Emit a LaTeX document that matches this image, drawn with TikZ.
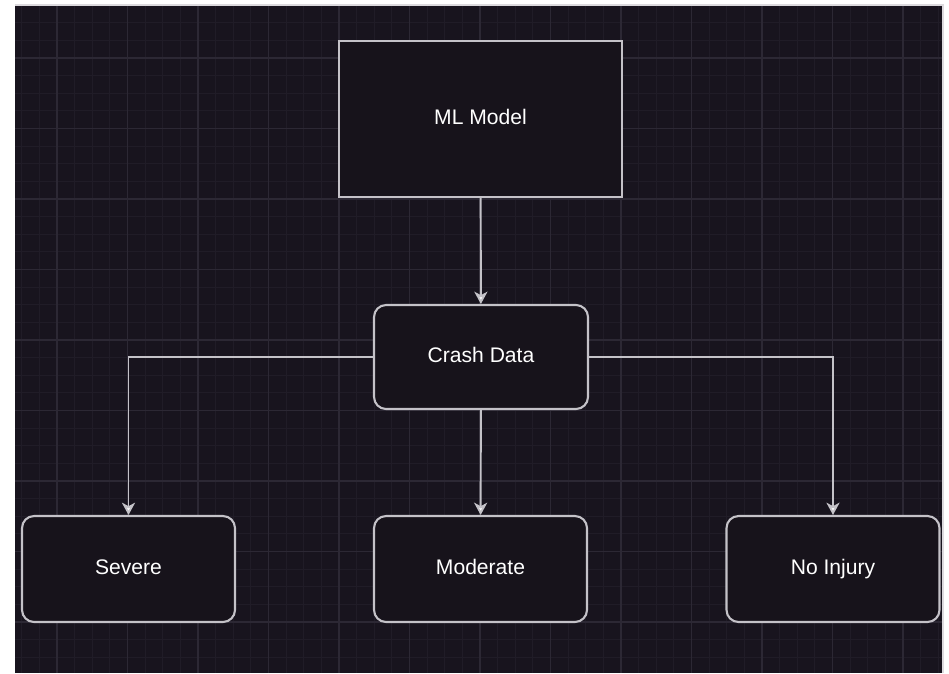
\documentclass[tikz,border=0pt]{standalone}
\usepackage{fontspec}
\setmainfont{Liberation Sans}
\usetikzlibrary{shapes,arrows.meta}
\usepackage{xcolor}
\definecolor{canvas}{HTML}{18141E}
\definecolor{gridminor}{HTML}{201C27}
\definecolor{gridmajor}{HTML}{2C2834}
\definecolor{boxline}{HTML}{C4C2C8}
\definecolor{boxfill}{HTML}{17131B}
\tikzset{
  block/.style={draw=boxline, fill=boxfill, line width=1.2pt, text=white,
    font=\fontsize{12}{14}\selectfont, text height=1.6ex, text depth=0.45ex,
    minimum width=4.26cm, minimum height=2.12cm},
  roundblock/.style={block, rounded corners=0.24cm},
  link/.style={draw=boxline, line width=1.1pt, -{Stealth[length=7pt,width=7.5pt,inset=2pt,fill=white]}}
}

\begin{document}
\begin{tikzpicture}[x=0.02cm,y=-0.02cm]
\useasboundingbox (0,0) rectangle (949,673);
\fill[white] (0,0) rectangle (949,673);
\fill[canvas] (15,5) rectangle (943,673);
\begin{scope}
\clip (15,5) rectangle (943,673);
\foreach \i in {-3,...,52} \draw[gridminor, line width=0.6pt] (57+17.625*\i,5) -- (57+17.625*\i,673);
\foreach \i in {-3,...,38} \draw[gridminor, line width=0.6pt] (15,58+17.625*\i) -- (943,58+17.625*\i);
\foreach \i in {0,...,12} \draw[gridmajor, line width=0.9pt] (57+70.5*\i,5) -- (57+70.5*\i,673);
\foreach \i in {-1,...,9} \draw[gridmajor, line width=0.9pt] (15,58+70.5*\i) -- (943,58+70.5*\i);
\end{scope}
\draw[boxline!60, line width=0.6pt] (15,5) -- (943,5) -- (943,673);

\node[block, minimum width=5.66cm, minimum height=3.12cm] (model) at (480.5,119) {ML Model};
\node[roundblock, minimum width=4.28cm, minimum height=2.08cm] (crash) at (481,357) {Crash Data};
\node[roundblock] (severe) at (128.5,569) {Severe};
\node[roundblock] (moderate) at (480.5,569) {Moderate};
\node[roundblock] (noinjury) at (833,569) {No Injury};

\draw[link] (model) -- (crash);
\draw[link] (crash.west) -| (severe.north);
\draw[link] (crash) -- (moderate);
\draw[link] (crash.east) -| (noinjury.north);
\end{tikzpicture}
\end{document}
